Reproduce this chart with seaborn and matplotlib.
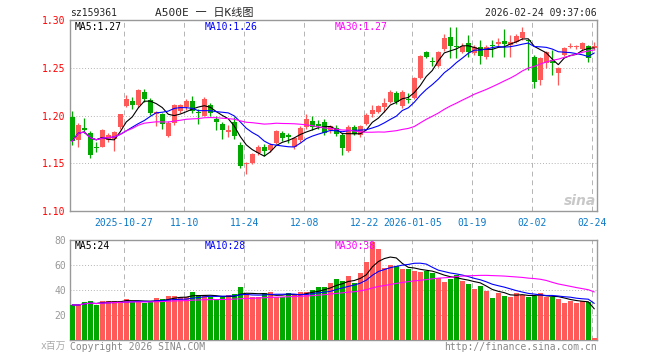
import numpy as np
import pandas as pd
import seaborn as sns
import matplotlib
matplotlib.use("Agg")
from matplotlib import pyplot as plt

# daily K line, sz159361
opens = [1.198, 1.174, 1.187, 1.182, 1.167, 1.1675, 1.174, 1.1755, 1.188, 1.210,
         1.2157, 1.2105, 1.2245, 1.2165, 1.2015, 1.2017, 1.179, 1.192, 1.2045, 1.2087,
         1.2157, 1.203, 1.200, 1.2105, 1.1965, 1.191, 1.1825, 1.193, 1.1695, 1.1492,
         1.150, 1.1605, 1.1675, 1.164, 1.171, 1.1815, 1.180, 1.1675, 1.174, 1.1875,
         1.194, 1.191, 1.193, 1.185, 1.1866, 1.1796, 1.1632, 1.1876, 1.1796, 1.191,
         1.2016, 1.204, 1.2086, 1.2145, 1.224, 1.210, 1.2175, 1.218, 1.239, 1.2668,
         1.2568, 1.2518, 1.2693, 1.2818, 1.2725, 1.2668, 1.2763, 1.2651, 1.2714, 1.2609,
         1.2730, 1.2749, 1.2784, 1.2738, 1.2773, 1.2808, 1.2787, 1.2616, 1.2372, 1.2546,
         1.2581, 1.2442, 1.2634, 1.2721, 1.2718, 1.2693, 1.2728, 1.2703]
closes = [1.173, 1.190, 1.185, 1.159, 1.166, 1.185, 1.180, 1.1825, 1.2017, 1.217,
          1.2115, 1.227, 1.2175, 1.2025, 1.2035, 1.191, 1.192, 1.2105, 1.2105, 1.2157,
          1.205, 1.2025, 1.2175, 1.2025, 1.193, 1.185, 1.185, 1.179, 1.1475, 1.1498,
          1.160, 1.1675, 1.1625, 1.1695, 1.1835, 1.1765, 1.177, 1.1765, 1.187, 1.1965,
          1.1875, 1.1885, 1.1815, 1.1885, 1.1810, 1.1656, 1.1883, 1.1806, 1.189, 1.2005,
          1.2058, 1.210, 1.2134, 1.225, 1.2145, 1.225, 1.2165, 1.239, 1.2623, 1.2616,
          1.2562, 1.2668, 1.2808, 1.2728, 1.2718, 1.2728, 1.2668, 1.2721, 1.2627, 1.2721,
          1.2726, 1.2773, 1.2749, 1.2773, 1.2832, 1.2878, 1.2784, 1.2354, 1.2599, 1.2668,
          1.2546, 1.2494, 1.2703, 1.2730, 1.2725, 1.2756, 1.2599, 1.2728]
highs = [1.205, 1.192, 1.197, 1.184, 1.172, 1.186, 1.182, 1.184, 1.202, 1.221,
         1.219, 1.228, 1.228, 1.218, 1.205, 1.203, 1.194, 1.212, 1.212, 1.217,
         1.220, 1.207, 1.219, 1.213, 1.199, 1.193, 1.190, 1.198, 1.172, 1.151,
         1.161, 1.169, 1.170, 1.171, 1.185, 1.184, 1.182, 1.178, 1.189, 1.2015,
         1.1995, 1.195, 1.196, 1.190, 1.190, 1.1815, 1.190, 1.190, 1.1905, 1.2025,
         1.211, 1.2115, 1.218, 1.2265, 1.226, 1.227, 1.2235, 1.240, 1.263, 1.268,
         1.2616, 1.268, 1.285, 1.293, 1.293, 1.2756, 1.2843, 1.274, 1.279, 1.274,
         1.279, 1.2808, 1.2902, 1.2843, 1.285, 1.293, 1.280, 1.263, 1.261, 1.268,
         1.2686, 1.251, 1.272, 1.2756, 1.274, 1.277, 1.274, 1.2773]
lows = [1.169, 1.167, 1.182, 1.156, 1.162, 1.167, 1.172, 1.163, 1.186, 1.209,
        1.207, 1.209, 1.214, 1.201, 1.1895, 1.186, 1.177, 1.190, 1.203, 1.206,
        1.203, 1.191, 1.199, 1.200, 1.185, 1.175, 1.178, 1.175, 1.145, 1.139,
        1.149, 1.159, 1.158, 1.162, 1.170, 1.173, 1.171, 1.165, 1.172, 1.186,
        1.185, 1.186, 1.180, 1.182, 1.179, 1.1586, 1.162, 1.1796, 1.178, 1.190,
        1.1988, 1.2025, 1.204, 1.213, 1.212, 1.208, 1.2135, 1.217, 1.238, 1.260,
        1.2518, 1.251, 1.268, 1.260, 1.260, 1.265, 1.2616, 1.263, 1.2536, 1.2588,
        1.2616, 1.2721, 1.2616, 1.2616, 1.276, 1.279, 1.2476, 1.2284, 1.2319, 1.2494,
        1.2424, 1.2319, 1.262, 1.2703, 1.270, 1.268, 1.2564, 1.269]
# volume, millions
volumes = [28, 28, 30.7, 31.2, 28, 31.2, 31.2, 31.2, 31.2, 32.8,
           30.7, 31.2, 29.9, 30.7, 33.3, 32.8, 35.2, 35.2, 34.1, 34.1,
           38.1, 36, 36, 34.7, 32.5, 34.7, 36, 36.8, 42.7, 36.8,
           34.1, 34.7, 37.3, 38.7, 34.1, 34.7, 37.9, 36, 38.1, 38.7,
           40, 42.1, 42.1, 45.3, 48.5, 47, 51.2, 45.9, 53.9, 62.7,
           78.7, 72.5, 57.9, 60, 59.2, 56.8, 56.8, 55.2, 54.7, 55.5,
           53.3, 49.3, 46.7, 48.5, 52, 47.5, 44.8, 40.8, 43.5, 39.2,
           33.9, 37.3, 35.5, 34.7, 37.9, 36, 34.1, 35.2, 37.3, 34.1,
           34.1, 32.8, 29.9, 31.2, 29.9, 31.2, 30.7, 1.5]

tick_pos = [9, 19, 29, 39, 49, 57, 67, 77, 87]
tick_labels = ['2025-10-27', '11-10', '11-24', '12-08', '12-22',
               '2026-01-05', '01-19', '02-02', '02-24']

RED = '#ff5a5a'
GREEN = '#00a800'
GRID = '#b4b4b4'
ma_colors = {5: 'black', 10: '#0000ff', 30: '#ff00ff'}

df = pd.DataFrame({'i': np.arange(len(opens)), 'open': opens, 'close': closes,
                   'high': highs, 'low': lows, 'vol': volumes})
df['dir'] = np.where(df.close >= df.open, 'up', 'down')
for n in ma_colors:
    df[f'ma{n}'] = df.close.rolling(n, min_periods=1).mean()
    df[f'vma{n}'] = df.vol.rolling(n, min_periods=1).mean()

sns.set_style("white")
plt.rcParams['font.family'] = ['DejaVu Sans Mono', 'Noto Sans CJK SC']

fig = plt.figure(figsize=(6.6, 3.6), dpi=100)
W, H = 660, 360
ax = fig.add_axes([70 / W, 1 - 211 / H, 527 / W, 191 / H])
axv = fig.add_axes([70 / W, 1 - 340 / H, 527 / W, 100 / H])

gx = [t - 0.35 for t in tick_pos]
for a in (ax, axv):
    for g in gx:
        a.axvline(g, color=GRID, ls=(0, (5, 4)), lw=0.7, zorder=0)
    for s in a.spines.values():
        s.set_color('#999999')
        s.set_linewidth(1)
for y in (1.15, 1.20, 1.25):
    ax.axhline(y, color=GRID, ls=(0, (1, 2)), lw=0.7, zorder=0)
for y in (20, 40, 60):
    axv.axhline(y, color=GRID, ls=(0, (1, 2)), lw=0.7, zorder=0)

# candles
col = np.where(df.dir == 'up', RED, GREEN)
ax.vlines(df.i, df.low, df.high, colors=col, lw=0.9, zorder=2)
body = np.maximum((df.close - df.open).abs(), 0.0011)
ax.bar(df.i, body, bottom=np.minimum(df.open, df.close), width=0.83,
       color=col, lw=0, zorder=3)
for n, c in ma_colors.items():
    sns.lineplot(data=df, x='i', y=f'ma{n}', color=c, lw=0.8, ax=ax, zorder=4)

# volume
sns.barplot(data=df, x='i', y='vol', hue='dir', palette={'up': RED, 'down': GREEN},
            dodge=False, width=0.83, saturation=1, errorbar=None, legend=False,
            native_scale=True, linewidth=0, ax=axv, zorder=3)
for n, c in ma_colors.items():
    sns.lineplot(data=df, x='i', y=f'vma{n}', color=c, lw=0.8, ax=axv, zorder=4)

ax.set_ylim(1.10, 1.30)
ax.set_yticks([1.10, 1.15, 1.20, 1.25, 1.30])
ax.set_yticklabels([f'{v:.2f}' for v in [1.10, 1.15, 1.20, 1.25, 1.30]])
ax.tick_params(axis='y', length=0, pad=3, labelsize=7, labelcolor='#ff0000')
ax.set_xticks(gx)
ax.set_xticklabels(tick_labels)
ax.tick_params(axis='x', length=0, pad=5, labelsize=7, labelcolor='#0a78c8')

axv.set_ylim(0, 80)
axv.set_yticks([20, 40, 60, 80])
axv.tick_params(axis='y', length=0, pad=3, labelsize=7, labelcolor='#999999')
axv.set_xticks(gx)
axv.set_xticklabels([])
axv.tick_params(axis='x', length=0)

for a in (ax, axv):
    a.set_xlim(-0.38, 87.45)
    a.set_xlabel('')
    a.set_ylabel('')


def px(x, y, s, size=7, **kw):
    fig.text(x / W, 1 - y / H, s, va='center', fontsize=size, **kw)


px(70, 13, 'sz159361')
px(204, 13, 'A500E 一 日K线图', ha='center', size=8)
px(597, 13, '2026-02-24 09:37:06', ha='right')
px(75, 27, 'MA5:1.27', color='black')
px(205, 27, 'MA10:1.26', color='#0000ff')
px(335, 27, 'MA30:1.27', color='#ff00ff')
px(75, 246, 'MA5:24', color='black')
px(205, 246, 'MA10:28', color='#0000ff')
px(335, 246, 'MA30:38', color='#ff00ff')
px(66, 346, 'x百万', ha='right', color='#aaaaaa')
px(70, 347, 'Copyright 2026 SINA.COM', color='#888888')
px(597, 347, 'http://finance.sina.com.cn', ha='right', color='#888888')
px(596, 201, 'sina', ha='right', color='#c8c8c8', size=10,
   fontweight='bold', style='italic', family='DejaVu Sans')

fig.savefig('out.png', dpi=100)
